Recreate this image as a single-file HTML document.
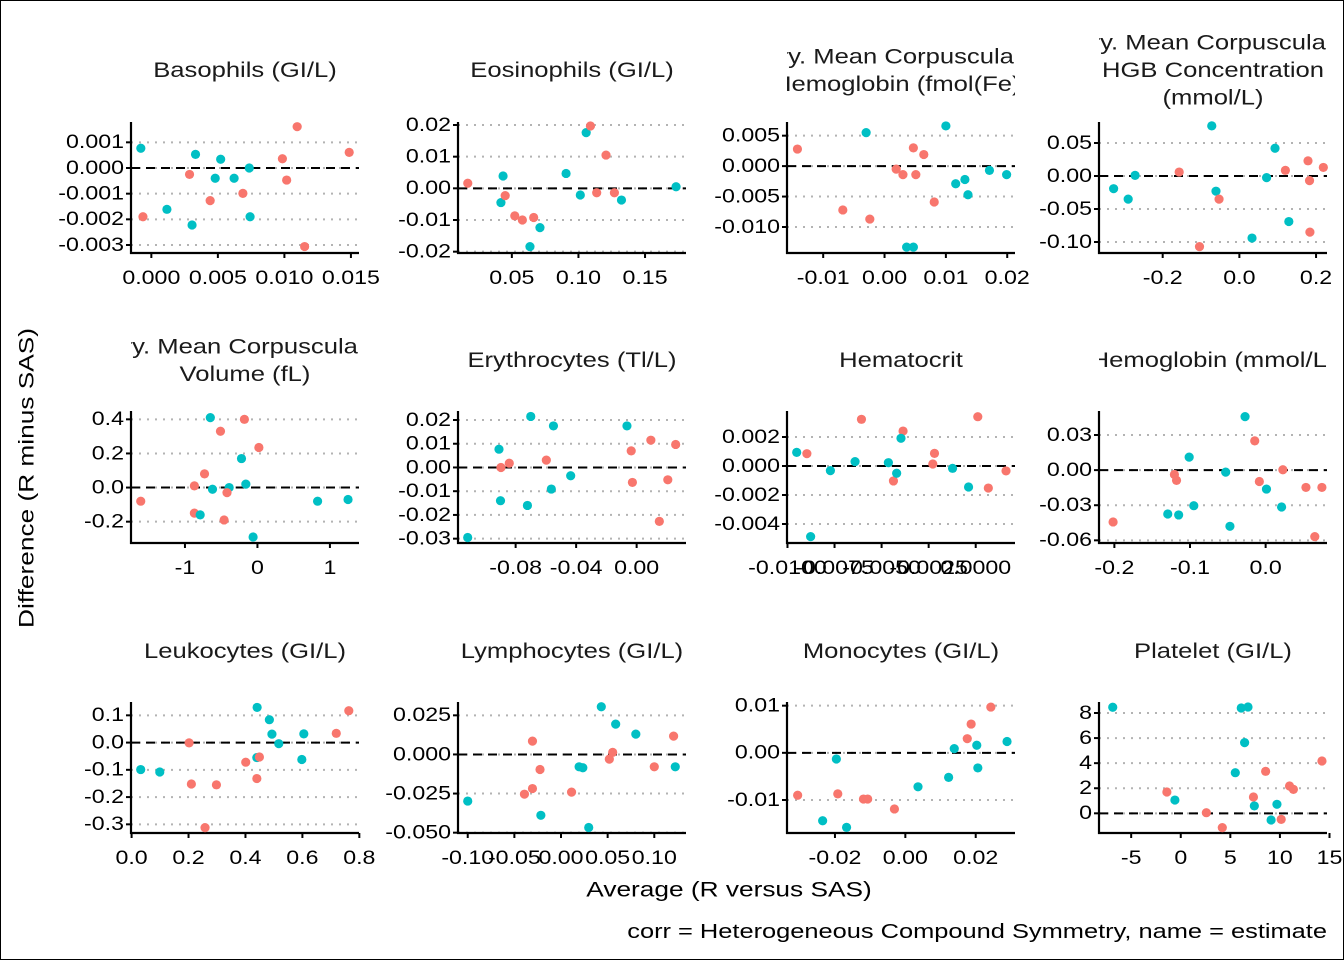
<!DOCTYPE html>
<html><head><meta charset="utf-8">
<style>
html,body{margin:0;padding:0;background:#fff;}
svg{display:block;font-family:"Liberation Sans",Arial,sans-serif;}
</style></head>
<body>
<svg id="chart" width="1344" height="960" viewBox="0 0 1344 960" xmlns="http://www.w3.org/2000/svg">
<rect x="0.5" y="0.5" width="1343" height="959" fill="#fff" stroke="#000" stroke-width="1"/>
<text x="0" y="0" transform="translate(27 478) rotate(-90) scale(1.25 1)" text-anchor="middle" dominant-baseline="central" font-size="21" fill="#000">Difference (R minus SAS)</text>
<text x="0" y="0" transform="translate(729 890) scale(1.25 1)" text-anchor="middle" dominant-baseline="central" font-size="21" fill="#000">Average (R versus SAS)</text>
<text x="0" y="0" transform="translate(1327 931) scale(1.27 1)" text-anchor="end" dominant-baseline="central" font-size="20" fill="#000">corr = Heterogeneous Compound Symmetry, name = estimate</text>
<g id="panels"></g>
</svg>
<script>
// ---- data (group 1 = red, 2 = teal) ----
const p1_x=[-0.00079,-0.00063,0.00117,0.00287,0.00306,0.00332,0.00442,0.0048,0.00521,0.00622,0.00688,0.00736,0.00742,0.00985,0.01017,0.01096,0.01152,0.01487];
const p1_y=[0.00077,-0.0019,-0.00161,-0.00025,-0.00222,0.00053,-0.00127,-0.0004,0.00034,-0.0004,-0.00099,0.0,-0.0019,0.00036,-0.00047,0.00161,-0.00306,0.00061];
const p1_g=[2,1,2,1,2,2,1,2,2,2,1,2,2,1,1,1,1,1];
const p2_x=[0.0169,0.0434,0.0418,0.045,0.0522,0.0579,0.0664,0.0636,0.0711,0.0907,0.1014,0.1058,0.109,0.1137,0.1207,0.127,0.1323,0.1733];
const p2_y=[0.0016,0.0039,-0.0045,-0.0023,-0.0087,-0.01,-0.0092,-0.0184,-0.0124,0.0047,-0.0021,0.0176,0.0197,-0.0014,0.0105,-0.0014,-0.0037,0.0005];
const p2_g=[1,2,2,1,1,1,1,2,2,2,2,2,1,1,1,1,2,2];
const p3_x=[-0.0142,-0.003,-0.0068,-0.0024,0.0019,0.003,0.0047,0.0051,0.0064,0.0081,0.0036,0.0047,0.01,0.0116,0.0131,0.0136,0.0171,0.0199];
const p3_y=[0.0028,0.0055,-0.0072,-0.0087,-0.0005,-0.0014,0.003,-0.0014,0.0019,-0.0059,-0.0133,-0.0133,0.0066,-0.0029,-0.0022,-0.0047,-0.0007,-0.0014];
const p3_g=[1,2,1,1,1,1,1,1,1,1,2,2,2,2,2,2,2,2];
const p4_x=[-0.328,-0.29,-0.272,-0.157,-0.104,-0.072,-0.061,-0.053,0.033,0.071,0.093,0.12,0.129,0.179,0.183,0.184,0.219];
const p4_y=[-0.0192,-0.035,0.001,0.006,-0.107,0.076,-0.023,-0.035,-0.094,-0.0025,0.042,0.0086,-0.069,0.023,-0.007,-0.085,0.013];
const p4_g=[2,2,2,1,1,2,2,1,2,2,2,1,2,1,1,1,1];
const p5_x=[-1.61,-0.65,-0.18,-0.51,0.02,-0.22,-0.73,-0.16,-0.87,-0.62,-0.39,-0.42,-0.87,-0.79,-0.46,-0.06,0.83,1.25];
const p5_y=[-0.08,0.41,0.40,0.33,0.235,0.17,0.08,0.02,0.01,-0.01,0.0,-0.03,-0.15,-0.16,-0.19,-0.29,-0.08,-0.07];
const p5_g=[1,2,1,1,1,2,1,2,1,2,2,1,1,2,1,2,2,2];
const p6_x=[-0.1117,-0.091,-0.0897,-0.0842,-0.09,-0.07,-0.0722,-0.0597,-0.055,-0.0564,-0.0436,-0.0064,-0.0036,-0.0028,0.0094,0.015,0.0206,0.0258];
const p6_y=[-0.0295,0.0077,0.0,0.0018,-0.014,0.0215,-0.016,0.0031,0.0175,-0.0091,-0.0035,0.0175,0.007,-0.0063,0.0115,-0.0227,-0.0052,0.0097];
const p6_g=[2,2,1,1,2,2,2,1,2,2,2,2,1,1,1,1,1,1];
const p7_x=[-0.00951,-0.00897,-0.00877,-0.00772,-0.00641,-0.00607,-0.00464,-0.00437,-0.0042,-0.00386,-0.00397,-0.00219,-0.00228,-0.00123,-0.00038,0.00011,0.00067,0.00161];
const p7_y=[0.00094,0.00085,-0.00487,-0.00032,0.0003,0.00322,0.00023,-0.00103,-0.0005,0.00241,0.00191,0.00087,0.00014,-0.00016,-0.00145,0.0034,-0.00152,-0.00034];
const p7_g=[2,1,2,2,2,1,2,1,2,1,2,1,1,2,2,1,1,1];
const p8_x=[-0.2017,-0.1294,-0.115,-0.1206,-0.1178,-0.1011,-0.095,-0.0528,-0.0472,-0.0272,-0.0144,-0.0083,0.0011,0.0228,0.0211,0.0533,0.065,0.0744];
const p8_y=[-0.0443,-0.0375,-0.0383,-0.0037,-0.0088,0.0111,-0.0304,-0.0017,-0.048,0.0457,0.025,-0.0097,-0.0162,0.0003,-0.0315,-0.0148,-0.0568,-0.0148];
const p8_g=[1,2,2,1,1,2,2,2,2,2,1,1,2,1,2,1,1,1];
const p9_x=[0.032,0.099,0.202,0.21,0.258,0.298,0.401,0.441,0.44,0.449,0.44,0.484,0.493,0.517,0.598,0.605,0.719,0.763];
const p9_y=[-0.099,-0.108,-0.001,-0.152,-0.312,-0.155,-0.072,0.129,-0.055,-0.053,-0.132,0.084,0.031,-0.004,-0.062,0.032,0.034,0.117];
const p9_g=[2,2,1,1,1,1,1,2,2,1,1,2,2,2,2,2,1,1];
const p10_x=[-0.1,-0.0392,-0.0306,-0.0306,-0.0216,-0.0225,0.0113,0.0194,0.0234,0.0297,0.0432,0.0518,0.0554,0.0586,0.0802,0.1,0.1207,0.1225];
const p10_y=[-0.0298,-0.0254,-0.0218,0.0085,-0.0389,-0.0096,-0.0241,-0.0079,-0.0085,-0.0467,0.0305,-0.003,0.0013,0.0194,0.013,-0.0079,0.0117,-0.0079];
const p10_g=[2,1,1,1,2,1,1,2,2,2,2,1,1,2,2,1,1,2];
const p11_x=[-0.0306,-0.0235,-0.0196,-0.0192,-0.0167,-0.0119,-0.0107,-0.0031,0.0036,0.0123,0.0139,0.0176,0.0187,0.0203,0.0206,0.0243,0.0289];
const p11_y=[-0.009,-0.0144,-0.0013,-0.0087,-0.0158,-0.0098,-0.0098,-0.0119,-0.0072,-0.0052,0.0009,0.003,0.0061,0.0016,-0.0032,0.0097,0.0024];
const p11_g=[1,2,2,1,2,1,1,1,2,2,2,1,1,2,2,1,2];
const p12_x=[-6.86,-1.4,-0.59,2.58,4.19,5.5,6.1,6.78,6.44,7.33,7.42,8.56,9.11,9.7,10.13,10.97,11.36,14.24];
const p12_y=[8.46,1.7,1.06,0.05,-1.14,3.24,8.4,8.48,5.64,1.3,0.59,3.35,-0.53,0.72,-0.48,2.18,1.91,4.17];
const p12_g=[2,1,2,1,1,2,2,2,2,1,2,1,2,2,1,1,1,1];

// ---- tick values & labels ----
const p1_xt=[0,0.005,0.01,0.015], p1_xl=["0.000","0.005","0.010","0.015"];
const p1_yt=[0.001,0,-0.001,-0.002,-0.003], p1_yl=["0.001","0.000","-0.001","-0.002","-0.003"];
const p2_xt=[0.05,0.1,0.15], p2_xl=["0.05","0.10","0.15"];
const p2_yt=[0.02,0.01,0,-0.01,-0.02], p2_yl=["0.02","0.01","0.00","-0.01","-0.02"];
const p3_xt=[-0.01,0,0.01,0.02], p3_xl=["-0.01","0.00","0.01","0.02"];
const p3_yt=[0.005,0,-0.005,-0.01], p3_yl=["0.005","0.000","-0.005","-0.010"];
const p4_xt=[-0.2,0,0.2], p4_xl=["-0.2","0.0","0.2"];
const p4_yt=[0.05,0,-0.05,-0.1], p4_yl=["0.05","0.00","-0.05","-0.10"];
const p5_xt=[-1,0,1], p5_xl=["-1","0","1"];
const p5_yt=[0.4,0.2,0,-0.2], p5_yl=["0.4","0.2","0.0","-0.2"];
const p6_xt=[-0.08,-0.04,0], p6_xl=["-0.08","-0.04","0.00"];
const p6_yt=[0.02,0.01,0,-0.01,-0.02,-0.03], p6_yl=["0.02","0.01","0.00","-0.01","-0.02","-0.03"];
const p7_xt=[-0.01,-0.0075,-0.005,-0.0025,0], p7_xl=["-0.0100","-0.0075","-0.0050","-0.0025","0.0000"];
const p7_yt=[0.002,0,-0.002,-0.004], p7_yl=["0.002","0.000","-0.002","-0.004"];
const p8_xt=[-0.2,-0.1,0], p8_xl=["-0.2","-0.1","0.0"];
const p8_yt=[0.03,0,-0.03,-0.06], p8_yl=["0.03","0.00","-0.03","-0.06"];
const p9_xt=[0,0.2,0.4,0.6,0.8], p9_xl=["0.0","0.2","0.4","0.6","0.8"];
const p9_yt=[0.1,0,-0.1,-0.2,-0.3], p9_yl=["0.1","0.0","-0.1","-0.2","-0.3"];
const p10_xt=[-0.1,-0.05,0,0.05,0.1], p10_xl=["-0.10","-0.05","0.00","0.05","0.10"];
const p10_yt=[0.025,0,-0.025,-0.05], p10_yl=["0.025","0.000","-0.025","-0.050"];
const p11_xt=[-0.02,0,0.02], p11_xl=["-0.02","0.00","0.02"];
const p11_yt=[0.01,0,-0.01], p11_yl=["0.01","0.00","-0.01"];
const p12_xt=[-5,0,5,10,15], p12_xl=["-5","0","5","10","15"];
const p12_yt=[8,6,4,2,0], p12_yl=["8","6","4","2","0"];

const titles=[["Basophils (GI/L)"],["Eosinophils (GI/L)"],["ry. Mean Corpuscular","Hemoglobin (fmol(Fe))"],["ry. Mean Corpuscular","HGB Concentration","(mmol/L)"],
 ["ry. Mean Corpuscular","Volume (fL)"],["Erythrocytes (Tl/L)"],["Hematocrit"],["Hemoglobin (mmol/L)"],
 ["Leukocytes (GI/L)"],["Lymphocytes (GI/L)"],["Monocytes (GI/L)"],["Platelet (GI/L)"]];

// ---- layout ----
const COLS=[[131,359],[458,686],[787,1015],[1099,1327]];
const ROWS=[[122,253],[411,543],[702,833]];
const TITLE_Y=[70,360,651];
const ZX0=[40,40,690,690], ZY0=[110,400,690], SX=2.38, SY=3;
const TSCALE=1.22;
const XA=[[0,265,0.015,740],[0.05,1123,0.15,1440],[-0.01,317,0.02,755],[-0.2,1125,0.2,1490],
 [-1,345,1,690],[-0.08,1132,0,1420],[-0.01,232,0,680],[-0.2,1010,0,1370],
 [0,218,0.8,760],[-0.1,1018,0.1,1462],[-0.02,345,0.02,680],[-5,1050,15,1522]];
const YA=[[0.001,97,-0.003,405],[0.02,45,-0.02,425],[0.005,77,-0.01,351],[0.05,99,-0.1,396],
 [0.4,58,-0.2,365],[0.02,60,-0.03,416],[0.002,111,-0.004,372],[0.03,105,-0.06,421],
 [0.1,76,-0.3,403],[0.025,76,-0.05,428],[0.01,47,-0.01,330],[8,69,0,370]];

const DATA=[[p1_x,p1_y,p1_g,p1_xt,p1_xl,p1_yt,p1_yl],[p2_x,p2_y,p2_g,p2_xt,p2_xl,p2_yt,p2_yl],
 [p3_x,p3_y,p3_g,p3_xt,p3_xl,p3_yt,p3_yl],[p4_x,p4_y,p4_g,p4_xt,p4_xl,p4_yt,p4_yl],
 [p5_x,p5_y,p5_g,p5_xt,p5_xl,p5_yt,p5_yl],[p6_x,p6_y,p6_g,p6_xt,p6_xl,p6_yt,p6_yl],
 [p7_x,p7_y,p7_g,p7_xt,p7_xl,p7_yt,p7_yl],[p8_x,p8_y,p8_g,p8_xt,p8_xl,p8_yt,p8_yl],
 [p9_x,p9_y,p9_g,p9_xt,p9_xl,p9_yt,p9_yl],[p10_x,p10_y,p10_g,p10_xt,p10_xl,p10_yt,p10_yl],
 [p11_x,p11_y,p11_g,p11_xt,p11_xl,p11_yt,p11_yl],[p12_x,p12_y,p12_g,p12_xt,p12_xl,p12_yt,p12_yl]];
const COLORS={1:"#F8766D",2:"#00BFC4"};

const NS="http://www.w3.org/2000/svg";
const root=document.getElementById("panels");
function mk(tag,attrs,parent){const e=document.createElementNS(NS,tag);for(const k in attrs)e.setAttribute(k,attrs[k]);parent.appendChild(e);return e;}
function txt(parent,x,y,s,anchor,size,fill){
  const t=mk("text",{x:0,y:0,transform:"translate("+x+" "+y+") scale("+TSCALE+" 1)","text-anchor":anchor,"dominant-baseline":"central","font-size":size,fill:fill},parent);
  t.textContent=s;return t;
}

DATA.forEach((d,i)=>{
  const r=Math.floor(i/4), c=i%4;
  const [x0,x1]=COLS[c], [y0,y1]=ROWS[r];
  const xa=XA[i], ya=YA[i];
  const ax1=ZX0[c]+xa[1]/SX, ax2=ZX0[c]+xa[3]/SX;
  const ay1=ZY0[r]+ya[1]/SY, ay2=ZY0[r]+ya[3]/SY;
  const sx=v=>ax1+(v-xa[0])*(ax2-ax1)/(xa[2]-xa[0]);
  const sy=v=>ay1+(v-ya[0])*(ay2-ay1)/(ya[2]-ya[0]);
  const [xs,ys,gs,xt,xl,yt,yl]=d;
  const g=mk("g",{},root);
  
  
  const cp=mk("clipPath",{id:"clip"+i},g);
  mk("rect",{x:x0,y:0,width:x1-x0,height:960},cp);
  const tg=mk("g",{"clip-path":"url(#clip"+i+")"},g);
  const lines=titles[i], n=lines.length;
  lines.forEach((s,k)=>{
    const t=txt(tg,(x0+x1)/2,TITLE_Y[r]+(k-(n-1)/2)*27.5,s,"middle","21","#1a1a1a");
    
    
  });
  yt.forEach((v,k)=>{
    const yy=sy(v);
    const ln=mk("line",{x1:x0,x2:x1,y1:yy,y2:yy,stroke:"#b3b3b3","stroke-width":"2","stroke-dasharray":"2 6"},g);
    
    
    const tk=mk("line",{x1:x0-5,x2:x0,y1:yy,y2:yy,stroke:"#000","stroke-width":"2"},g);
    
    
    const tl=txt(g,x0-7,yy,yl[k],"end","19","#000");
    
    
  });
  const z=sy(0);
  const zl=mk("line",{x1:x0,x2:x1,y1:z,y2:z,stroke:"#000","stroke-width":"2","stroke-dasharray":"9 6"},g);
  
  
  xt.forEach((v,k)=>{
    const xx=sx(v);
    const tk=mk("line",{x1:xx,x2:xx,y1:y1,y2:y1+5,stroke:"#000","stroke-width":"2"},g);
    
    
    const tl=txt(g,xx,y1+25,xl[k],"middle","19","#000");
    
    
  });
  const yaxis=mk("line",{x1:x0,x2:x0,y1:y0,y2:y1+1,stroke:"#000","stroke-width":"2.2"},g);
  
  
  const xaxis=mk("line",{x1:x0-1,x2:x1,y1:y1,y2:y1,stroke:"#000","stroke-width":"2.2"},g);
  
  
  xs.forEach((v,k)=>{
    const p=mk("circle",{cx:sx(v),cy:sy(ys[k]),r:"4.6",fill:COLORS[gs[k]]},g);
    
    
  });
});
</script>
</body></html>
